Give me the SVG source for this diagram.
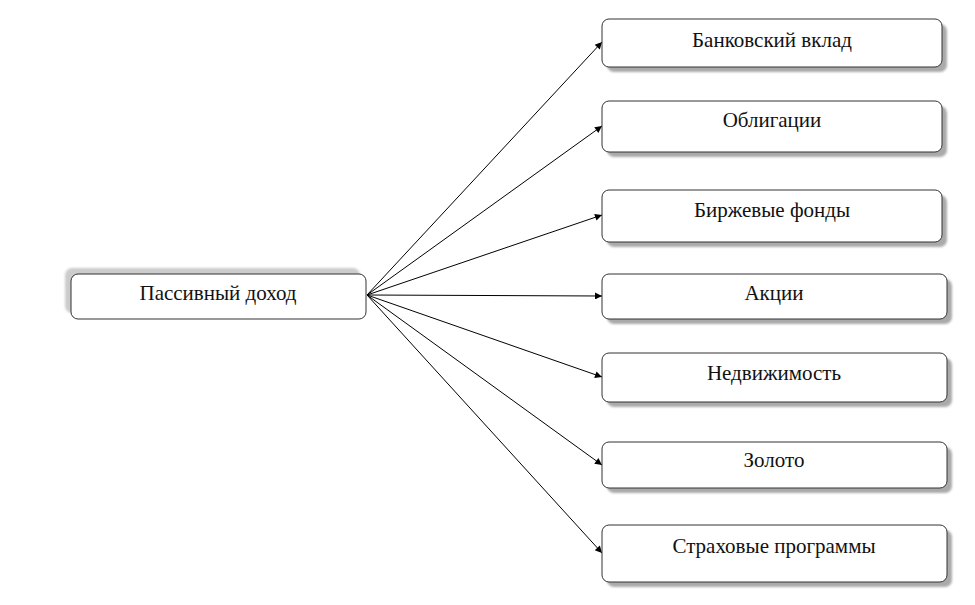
<svg xmlns="http://www.w3.org/2000/svg" width="975" height="605" viewBox="0 0 975 605">
<style>
.box{fill:#fff;stroke:#333;stroke-width:1}
.sh{fill:#aaa;filter:url(#blur)}
.sh2{fill:#ccc;filter:url(#blur)}
.t{font-family:"Liberation Serif","Times New Roman",serif;font-size:21px;fill:#111;text-anchor:middle}
.c{stroke:#000;stroke-width:1;fill:none;marker-end:url(#ah)}
</style>
<defs>
<filter id="blur" x="-10%" y="-30%" width="120%" height="160%"><feGaussianBlur stdDeviation="1.2"/></filter>
<marker id="ah" viewBox="0 0 10 10" refX="10" refY="5" markerWidth="10" markerHeight="7" markerUnits="userSpaceOnUse" orient="auto"><path d="M0,0 L10,5 L0,10 z" fill="#000"/></marker>
</defs>
<rect width="975" height="605" fill="#fff"/>
<g id="connectors">
<line class="c" x1="367" y1="295" x2="602" y2="42"/>
<line class="c" x1="367" y1="295" x2="602" y2="126"/>
<line class="c" x1="367" y1="295" x2="602" y2="215"/>
<line class="c" x1="367" y1="295" x2="602" y2="296"/>
<line class="c" x1="367" y1="295" x2="602" y2="377"/>
<line class="c" x1="367" y1="295" x2="602" y2="465"/>
<line class="c" x1="367" y1="295" x2="602" y2="553"/>
</g>
<g id="n0">
<rect class="sh2" x="65" y="268" width="295" height="45" rx="7"/>
<rect class="box" x="71" y="274" width="295" height="45" rx="7"/>
<text class="t" x="218" y="300">Пассивный доход</text>
</g>
<g id="n1">
<rect class="sh" x="607" y="24" width="340" height="48" rx="7"/>
<rect class="box" x="602" y="19" width="340" height="48" rx="7"/>
<text class="t" x="772" y="47">Банковский вклад</text>
</g>
<g id="n2">
<rect class="sh" x="607" y="106" width="340" height="51" rx="7"/>
<rect class="box" x="602" y="101" width="340" height="51" rx="7"/>
<text class="t" x="772" y="127">Облигации</text>
</g>
<g id="n3">
<rect class="sh" x="607" y="195" width="340" height="52" rx="7"/>
<rect class="box" x="602" y="190" width="340" height="52" rx="7"/>
<text class="t" x="772" y="217">Биржевые фонды</text>
</g>
<g id="n4">
<rect class="sh" x="607" y="279" width="345" height="45" rx="7"/>
<rect class="box" x="602" y="274" width="345" height="45" rx="7"/>
<text class="t" x="774" y="300">Акции</text>
</g>
<g id="n5">
<rect class="sh" x="607" y="358" width="345" height="49" rx="7"/>
<rect class="box" x="602" y="353" width="345" height="49" rx="7"/>
<text class="t" x="774" y="380">Недвижимость</text>
</g>
<g id="n6">
<rect class="sh" x="607" y="447" width="345" height="46" rx="7"/>
<rect class="box" x="602" y="442" width="345" height="46" rx="7"/>
<text class="t" x="774" y="467">Золото</text>
</g>
<g id="n7">
<rect class="sh" x="607" y="530" width="345" height="57" rx="7"/>
<rect class="box" x="602" y="525" width="345" height="57" rx="7"/>
<text class="t" x="774" y="553">Страховые программы</text>
</g>
</svg>
